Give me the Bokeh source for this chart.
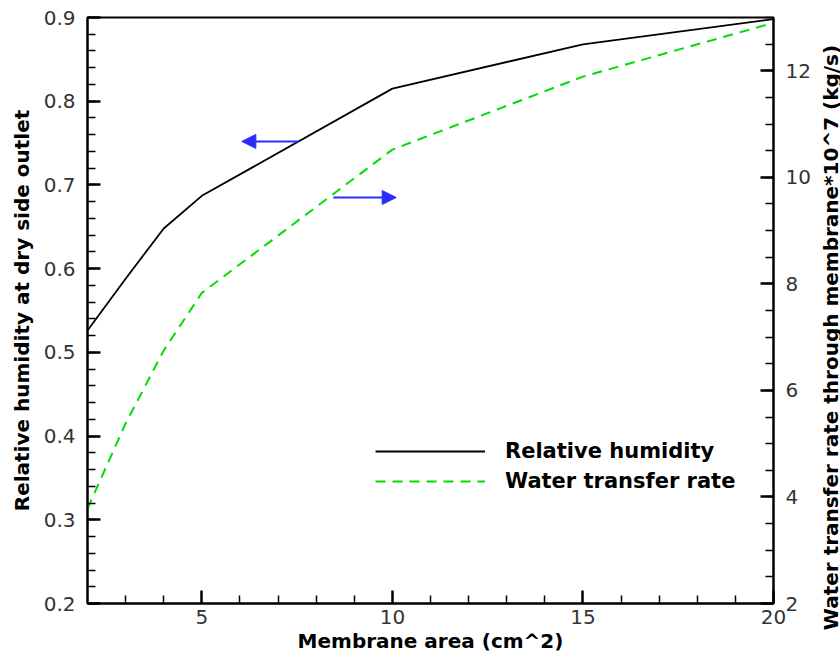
import math
from bokeh.plotting import figure
from bokeh.layouts import row
from bokeh.models import (Range1d, LinearAxis, FixedTicker, Legend, LegendItem,
                          Arrow, NormalHead, Label)
from bokeh.embed import file_html
from bokeh.resources import INLINE

# ---- data ----
area = [2, 3, 4, 5, 10, 15, 20]                       # membrane area, cm^2
rel_humidity = [0.526, 0.588, 0.648, 0.687, 0.815, 0.868, 0.898]
water_rate = [3.78, 5.38, 6.75, 7.83, 10.52, 11.89, 12.9]  # *10^7 kg/s

x_ticks = [5, 10, 15, 20]
x_minor = [3, 4, 6, 7, 8, 9, 11, 12, 13, 14, 16, 17, 18, 19]
y_ticks = [0.2, 0.3, 0.4, 0.5, 0.6, 0.7, 0.8, 0.9]
y_minor = [round(0.2 + 0.02 * i, 2) for i in range(36)]
r_ticks = [2, 4, 6, 8, 10, 12]
r_minor = [2 + 0.5 * i for i in range(23)]

FONT = "DejaVu Sans"
RIGHT_LABEL = "Water transfer rate through membrane*10^7 (kg/s)"

p = figure(width=815, height=657, output_backend="svg", toolbar_location=None,
           x_range=Range1d(2, 20), y_range=Range1d(0.2, 0.9),
           min_border_left=87, min_border_right=42, min_border_top=17,
           min_border_bottom=54)
p.extra_y_ranges = {"right": Range1d(2, 13)}
p.xgrid.visible = False
p.ygrid.visible = False
p.outline_line_color = "black"
p.outline_line_width = 2
p.background_fill_color = "white"
p.border_fill_color = "white"

def style_axis(ax, label):
    ax.axis_label = label
    ax.axis_label_text_font = FONT
    ax.axis_label_text_font_style = "bold"
    ax.axis_label_text_font_size = "20px"
    ax.axis_label_text_color = "black"
    ax.major_label_text_font = FONT
    ax.major_label_text_font_size = "20px"
    ax.major_label_text_color = "#333333"
    ax.axis_line_width = 2
    ax.axis_line_color = "black"
    ax.major_tick_in = 13
    ax.major_tick_out = 0
    ax.minor_tick_in = 8
    ax.minor_tick_out = 0
    ax.major_tick_line_width = 2.5
    ax.minor_tick_line_width = 1.5
    ax.major_tick_line_color = "black"
    ax.minor_tick_line_color = "black"

xa = p.xaxis[0]
xa.ticker = FixedTicker(ticks=x_ticks, minor_ticks=x_minor)
style_axis(xa, "Membrane area (cm^2)")
xa.major_label_standoff = 6
xa.axis_label_standoff = 2

ya = p.yaxis[0]
ya.ticker = FixedTicker(ticks=y_ticks, minor_ticks=y_minor)
style_axis(ya, "Relative humidity at dry side outlet")
ya.major_label_standoff = 12
ya.axis_label_standoff = 7

ra = LinearAxis(y_range_name="right",
                ticker=FixedTicker(ticks=r_ticks, minor_ticks=r_minor))
style_axis(ra, None)
ra.major_label_standoff = 12
p.add_layout(ra, "right")

l1 = p.line(area, rel_humidity, line_color="black", line_width=1.8)
l2 = p.line(area, water_rate, y_range_name="right", line_color="#00dd00",
            line_width=2, line_dash="10 7")

legend = Legend(items=[LegendItem(label="Relative humidity", renderers=[l1]),
                       LegendItem(label="Water transfer rate", renderers=[l2])],
                location=(288, 110), orientation="vertical",
                glyph_width=110, glyph_height=20, label_height=20,
                label_standoff=20, spacing=6, padding=0, margin=0,
                border_line_color=None, background_fill_alpha=0,
                label_text_font=FONT, label_text_font_style="bold",
                label_text_font_size="21px", label_text_color="black")
p.add_layout(legend)

# direction arrows (annotations)
p.add_layout(Arrow(end=NormalHead(size=14, fill_color="#2b2bff", line_color="#2b2bff"),
                   x_start=7.55, y_start=0.752, x_end=6.05, y_end=0.752,
                   line_color="#2b2bff", line_width=2))
p.add_layout(Arrow(end=NormalHead(size=14, fill_color="#2b2bff", line_color="#2b2bff"),
                   x_start=8.45, y_start=0.685, x_end=10.1, y_end=0.685,
                   line_color="#2b2bff", line_width=2))

# narrow strip holding the right-axis title, reading bottom-to-top
q = figure(width=25, height=657, output_backend="svg", toolbar_location=None,
           x_range=Range1d(0, 1), y_range=Range1d(0, 1),
           min_border_left=0, min_border_right=0, min_border_top=0,
           min_border_bottom=0, x_axis_location=None, y_axis_location=None)
q.xgrid.visible = False
q.ygrid.visible = False
q.outline_line_color = None

if "frame_align" in q.properties():
    # strip keeps its own full-height frame
    p.frame_align = False
    q.frame_align = False
    label_y, label_size = 320, "20px"
else:
    # strip frame is aligned with the main frame (17..603)
    label_y, label_size = 280, "19px"

q.add_layout(Label(x=15, y=label_y, x_units="screen", y_units="screen",
                   text=RIGHT_LABEL, angle=math.pi / 2,
                   text_align="center", text_baseline="middle",
                   text_font=FONT, text_font_style="bold",
                   text_font_size=label_size, text_color="black"))

layout = row(p, q, spacing=0)
open("out.html", "w").write(file_html(layout, INLINE))
